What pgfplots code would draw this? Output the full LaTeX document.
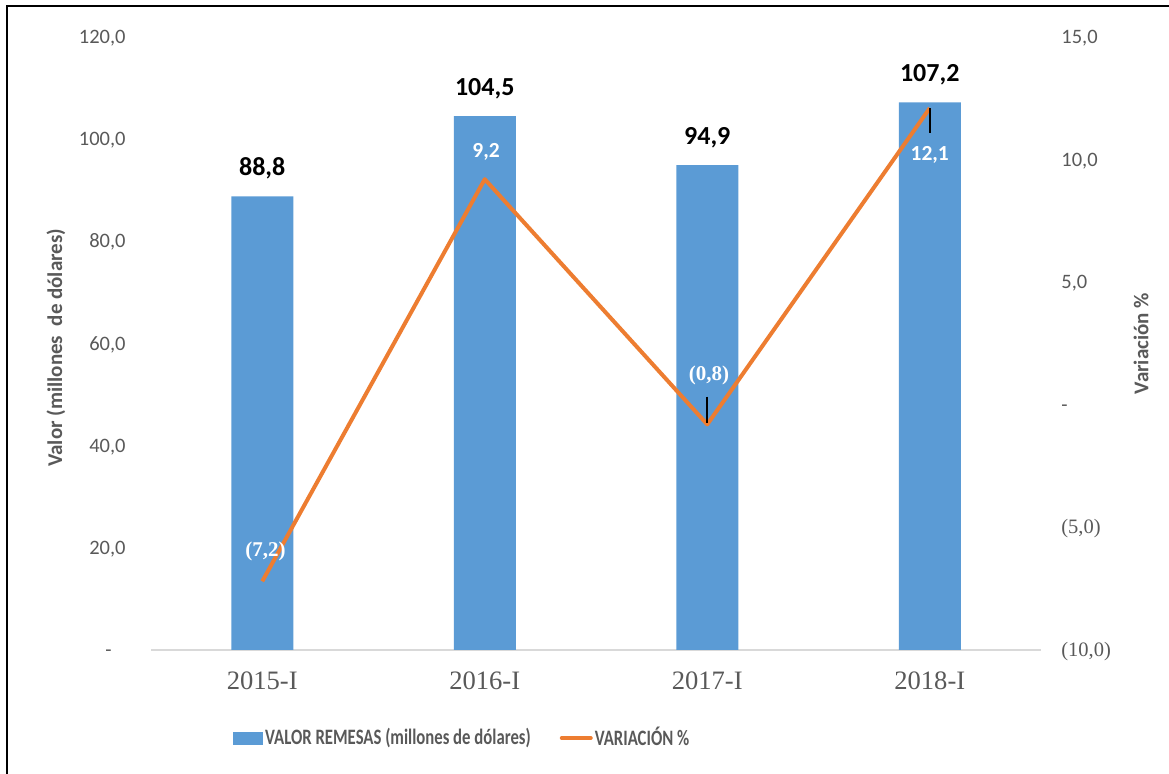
\documentclass[border=0pt]{standalone}
\usepackage{fontspec}
\setmainfont{Carlito}
\newfontfamily\serif{Liberation Serif}
\newfontfamily\legfont[FakeStretch=0.76]{Carlito}
\usepackage{pgfplots}
\pgfplotsset{compat=1.18}
\definecolor{barblue}{HTML}{5B9BD5}
\definecolor{lineorange}{HTML}{ED7D31}
\definecolor{txtgray}{HTML}{595959}
\definecolor{axgray}{HTML}{D9D9D9}
\begin{document}
\begin{tikzpicture}
\path[use as bounding box] (0,0) rectangle (584.5bp,387bp);
\draw[line width=1.3bp] (3.5bp,0) -- (3.5bp,384bp) -- (584.5bp,384bp);
\pgfplotsset{
  common/.style={
    at={(75.5bp,62bp)}, anchor=south west,
    scale only axis, width=445bp, height=306.5bp,
    xmin=-0.5, xmax=3.5,
    major tick length=0pt,
    y axis line style={draw=none},
  }
}
% valor remesas (eje izquierdo)
\begin{axis}[common,
  ymin=0, ymax=120,
  axis x line*=bottom, axis y line*=left,
  x axis line style={draw=axgray, line width=1bp},
  xtick={0,1,2,3},
  xticklabels={2015-I,2016-I,2017-I,2018-I},
  x tick label style={font=\fontsize{13.3bp}{15bp}\serif, text=txtgray,
    anchor=base, inner sep=0pt, yshift=-20bp},
  ytick={0,20,40,60,80,100,120},
  yticklabels={{-\kern7bp},{20,0},{40,0},{60,0},{80,0},{100,0},{120,0}},
  y tick label style={font=\fontsize{10.25bp}{12bp}\selectfont, text=txtgray,
    anchor=base east, inner sep=0pt, xshift=-12.5bp, yshift=-3.3bp},
  ylabel={Valor (millones~ de dólares)},
  every axis y label/.style={at={(axis description cs:-0.1067,0.493)},
    rotate=90, anchor=center, font=\fontsize{10.5bp}{12bp}\bfseries, text=txtgray},
  ybar, bar width=31bp,
  /pgf/number format/.cd, use comma, fixed, fixed zerofill, precision=1,
    assume math mode=true,
  /pgfplots/.cd,
  nodes near coords,
  every node near coord/.append style={anchor=base, inner sep=0pt,
    yshift=10.5bp, font=\fontsize{13bp}{14bp}\bfseries, text=black},
]
\addplot[fill=barblue, draw=none] coordinates {
  (0,88.8) (1,104.5) (2,94.9) (3,107.2)
};
\end{axis}
% variacion % (eje derecho)
\begin{axis}[common,
  ymin=-10, ymax=15,
  axis x line=none, axis y line*=right,
  ytick={-10,-5,0,5,10,15},
  yticklabels={{\serif(10,0)},{\serif(5,0)},{-},{5,0},{10,0},{15,0}},
  y tick label style={font=\fontsize{10.25bp}{12bp}\selectfont, text=txtgray,
    anchor=base west, inner sep=0pt, xshift=10bp, yshift=-3.3bp},
  ylabel={Variación \%},
  every axis y label/.style={at={(axis description cs:1.1124,0.5)},
    rotate=90, anchor=center, font=\fontsize{10.5bp}{12bp}\bfseries, text=txtgray},
  legend style={draw=none, fill=none, at={(axis description cs:0.0921,-0.1436)},
    anchor=west, legend columns=2, inner sep=0pt,
    font=\fontsize{11bp}{12bp}\legfont\bfseries, text=txtgray,
    nodes={inner sep=1bp},
    /tikz/every even column/.append style={column sep=13.5bp}},
]
\addlegendimage{legend image code/.code={\fill[barblue] (0bp,-3bp) rectangle (14.5bp,3bp);}}
\addlegendentry{VALOR REMESAS (millones de dólares)}
\addplot[lineorange, line width=2bp, line join=round, mark=none,
  legend image code/.code={\draw[lineorange, line width=2bp, line cap=round] (0bp,0bp) -- (14.5bp,0bp);}]
  coordinates {(0,-7.2) (1,9.2) (2,-0.8) (3,12.1)};
\addlegendentry{VARIACIÓN \%}
\draw[black, line width=0.8bp] (axis cs:2,0.33) -- (axis cs:2,-0.75);
\draw[black, line width=0.8bp] (axis cs:3,12.1) -- (axis cs:3,11.1);
\node[text=white, font=\fontsize{10.5bp}{12bp}\serif\bfseries] at (axis cs:0.015,-6.0) {(7,2)};
\node[text=white, font=\fontsize{10.75bp}{12bp}\bfseries] at (axis cs:1.006,10.3) {9,2};
\node[text=white, font=\fontsize{10.5bp}{12bp}\serif\bfseries] at (axis cs:2.008,1.18) {(0,8)};
\node[text=white, font=\fontsize{10.75bp}{12bp}\bfseries] at (axis cs:3.0,10.18) {12,1};
\end{axis}
\end{tikzpicture}
\end{document}
